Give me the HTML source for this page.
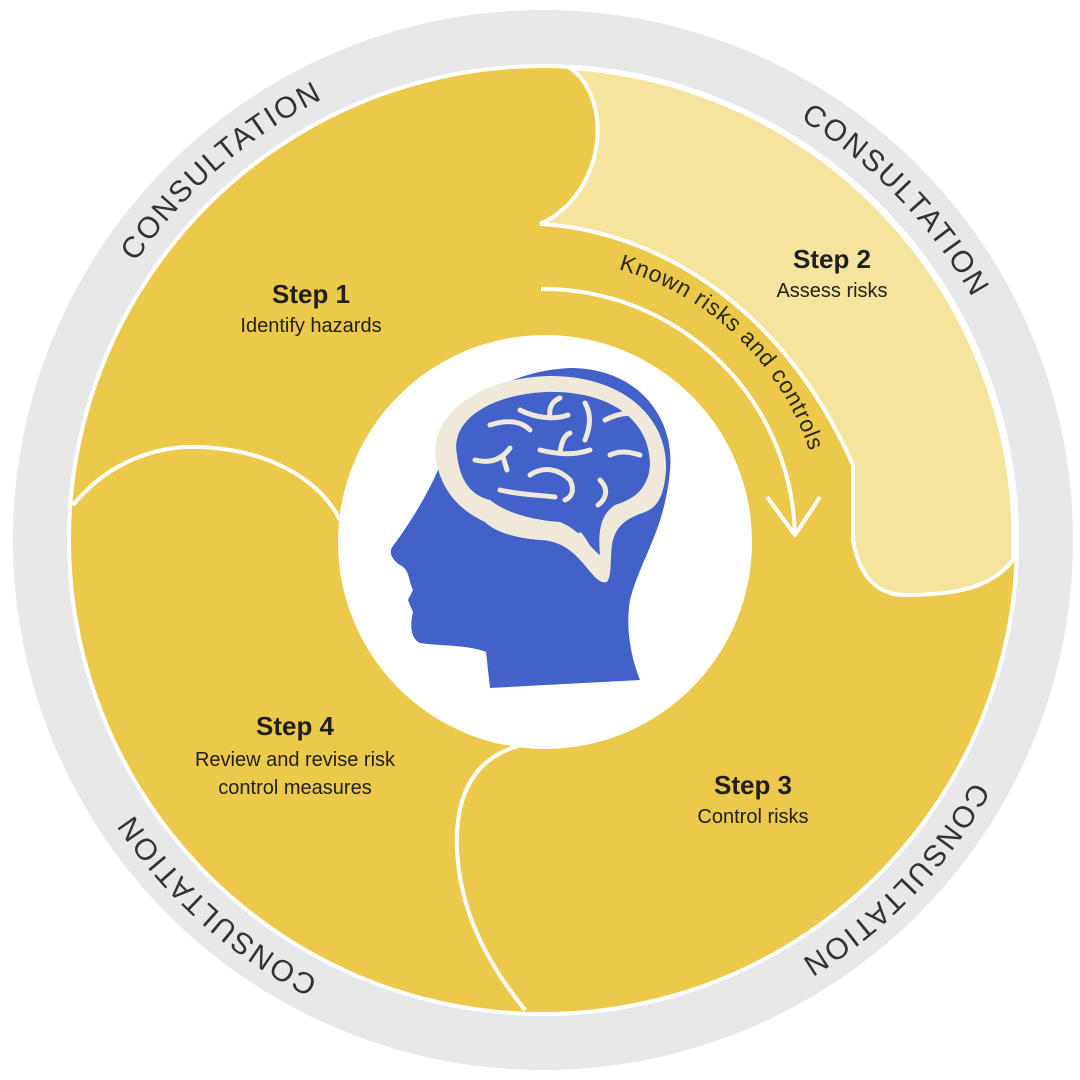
<!DOCTYPE html>
<html><head><meta charset="utf-8"><style>
html,body{margin:0;padding:0;background:#fff;}
svg{display:block}
</style></head><body>
<svg width="1080" height="1080" viewBox="0 0 1080 1080" xmlns="http://www.w3.org/2000/svg" font-family="Liberation Sans, Arial, sans-serif">
<defs>
<path id="ring" d="M 50 540 A 493 493 0 1 1 1036 540 A 493 493 0 1 1 50 540"/>
<path id="arrowtxt" d="M 543 259 A 281 281 0 0 1 824 540"/>
</defs>
<circle cx="543" cy="540" r="530" fill="#e8e8e8"/>
<circle cx="543" cy="540" r="476" fill="#fff"/>
<circle cx="543" cy="540" r="472" fill="#ecc94a"/>
<path d="M 570 68 C 615 100 605 195 540 224 C 650 230 780 300 853 465 L 853 540 C 860 580 880 595 905 595 C 950 595 990 590 1013 560 A 472 472 0 0 0 570 68 Z" fill="#f5e49d" stroke="#fff" stroke-width="4"/>
<circle cx="545" cy="542" r="207" fill="#fff"/>
<path d="M 73 505 C 110 460 160 445 200 447 C 270 450 320 480 340 520" fill="none" stroke="#fff" stroke-width="4"/>
<path d="M 518 746 C 470 760 455 800 457 850 C 460 910 485 960 525 1010" fill="none" stroke="#fff" stroke-width="4"/>
<path d="M 541 289 A 252 252 0 0 1 795 535" fill="none" stroke="#fff" stroke-width="4"/>
<path d="M 767 497 L 795 535 L 820 497" fill="none" stroke="#fff" stroke-width="4" stroke-linejoin="round"/>
<text font-size="23" fill="#2a2a1a" letter-spacing="0.8"><textPath href="#arrowtxt" startOffset="48.5%" text-anchor="middle">Known risks and controls</textPath></text>
<g font-size="30" fill="#333" letter-spacing="2">
<text><textPath href="#ring" startOffset="13.6%" text-anchor="middle">CONSULTATION</textPath></text>
<text><textPath href="#ring" startOffset="37.8%" text-anchor="middle">CONSULTATION</textPath></text>
<text><textPath href="#ring" startOffset="62.2%" text-anchor="middle">CONSULTATION</textPath></text>
<text><textPath href="#ring" startOffset="86.6%" text-anchor="middle">CONSULTATION</textPath></text>
</g>
<g fill="#1f1f1f" text-anchor="middle">
<text x="311" y="303" font-size="26" font-weight="bold">Step 1</text>
<text x="311" y="332" font-size="20">Identify hazards</text>
<text x="832" y="268" font-size="26" font-weight="bold">Step 2</text>
<text x="832" y="297" font-size="20">Assess risks</text>
<text x="753" y="794" font-size="26" font-weight="bold">Step 3</text>
<text x="753" y="823" font-size="20">Control risks</text>
<text x="295" y="735" font-size="26" font-weight="bold">Step 4</text>
<text x="295" y="766" font-size="20">Review and revise risk</text>
<text x="295" y="794" font-size="20">control measures</text>
</g>
<path d="M 490 688 L 486 652 C 470 645 440 646 420 643 C 410 638 410 625 413 612 L 408 600 L 413 590 C 408 580 410 570 400 565 C 392 560 388 552 393 546 C 405 530 425 500 438 470 C 445 420 490 372 570 368 C 640 368 675 420 670 470 C 665 530 640 560 630 600 C 625 630 632 660 640 680 Z" fill="#4262c9"/>
<path d="M 437 465 C 425 415 480 378 548 376 C 620 375 668 415 666 470 C 664 500 655 508 645 512 C 628 518 615 525 612 545 C 610 560 612 575 607 582 C 598 585 590 570 580 560 C 570 548 555 540 540 540 C 515 538 495 532 485 522 C 470 515 445 500 437 465 Z" fill="#efe9da"/>
<path d="M 457 455 C 450 420 490 395 545 392 C 610 390 650 420 650 465 C 648 492 630 500 615 505 C 600 515 598 532 600 555 C 590 548 580 530 560 522 C 530 520 505 512 490 500 C 470 495 460 480 457 455 Z" fill="#4262c9"/>
<g fill="none" stroke="#efe9da" stroke-width="5" stroke-linecap="round">
<path d="M 475 460 C 495 465 505 455 510 448 M 503 457 L 507 470"/>
<path d="M 490 425 C 505 420 520 420 530 430"/>
<path d="M 520 410 C 535 418 555 420 568 415 M 550 418 C 548 405 555 400 560 398"/>
<path d="M 585 403 C 592 415 590 428 585 440"/>
<path d="M 540 450 C 560 455 575 455 590 450 M 560 452 C 562 440 565 435 570 433"/>
<path d="M 605 420 C 615 415 625 412 635 414"/>
<path d="M 610 455 C 620 450 630 452 640 455"/>
<path d="M 530 475 C 545 465 560 470 570 480 C 575 490 572 497 565 500"/>
<path d="M 600 480 C 610 490 605 500 598 505"/>
<path d="M 500 490 C 520 495 540 495 555 497"/>
<path d="M 580 535 C 588 545 592 555 593 565"/>
</g>
</svg>
</body></html>
